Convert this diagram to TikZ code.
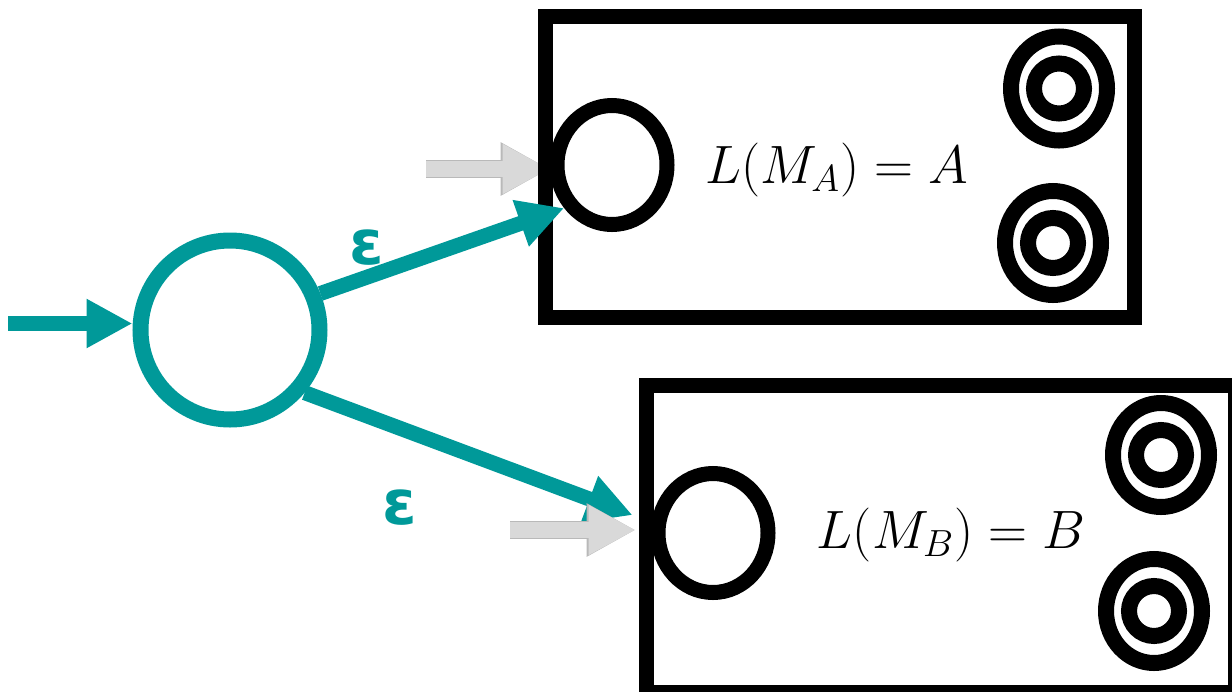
\RequirePackage{fix-cm}
\documentclass[tikz,border=0pt]{standalone}
\usepackage{amsmath}
\usepackage{fontspec}
\usepackage{tikz}
\usetikzlibrary{shapes.geometric,arrows.meta}
\newfontfamily\epsfont{DejaVu Sans}
\definecolor{tealc}{RGB}{0,153,153}
\definecolor{arrowgray}{RGB}{217,217,217}
\definecolor{edgegray}{RGB}{185,185,185}

\begin{document}
\begin{tikzpicture}[x=0.5pt,y=-0.5pt,
							every node/.style={inner sep=0pt},
							start/.style={circle,draw=tealc,line width=8pt,minimum size=89.5pt},
							state/.style={ellipse,draw,line width=7.5pt,minimum width=55pt,minimum height=59.5pt},
							accout/.style={ellipse,draw,line width=8pt,minimum width=48pt,minimum height=52pt},
							accin/.style={circle,draw,line width=8pt,minimum size=25pt},
							machine/.style={rectangle,draw,line width=7.5pt,minimum width=294.75pt},
							lang/.style={anchor=base,font=\fontsize{27}{30}\selectfont},
							eps/.style={text=tealc,font=\epsfont\bfseries\fontsize{31}{34}\selectfont},
							tealarrow/.style={draw=tealc,line width=7.5pt,-{Triangle[length=23pt,width=23pt]}},
							grayarrow/.style={draw=arrowgray,line width=8pt,-{Triangle[length=23.5pt,width=23.5pt]},
								preaction={draw=edgegray,line width=9pt,-{Triangle[length=24.5pt,width=25pt]}}}]
			\useasboundingbox (0,0) rectangle (1232,691);
			\clip (0,0) rectangle (1232,691);
			\coordinate (ga) at (426,169);
			\node[state] (sa) at (612,165) {};
			\draw[grayarrow] (ga) -- (ga -| sa.west);
			\node[machine,minimum height=150.25pt] (ma) at (840,166.75) {};
			\node[accout] (fa1) at (1059,88.5) {};
			\node[accin] (fa1in) at (fa1) {};
			\node[accout] (fa2) at (1053,243) {};
			\node[accin] (fa2in) at (fa2) {};
			\node[lang] (la) at (836.5,183) {$L(M_A) = A$};

			\node[start] (q0) at (230,330) {};
			\coordinate (in) at (8,323.5);
			\draw[tealarrow] (in) -- (in -| q0.west);
			\draw[tealarrow] (q0.22) -- (sa.222);
			\node[eps] (e1) at (367,248) {ε};

			\node[state] (sb) at (713,533) {};
			\draw[tealarrow,shorten >=10pt] (q0.320) -- (sb.170);
			\node[eps] (e2) at (400,508) {ε};
			\coordinate (gb) at (510,530);
			\draw[grayarrow,shorten >=7.5pt] (gb) -- (gb -| sb.west);
			\node[machine,minimum height=153.75pt] (mb) at (940.75,538.75) {};
			\node[accout] (fb1) at (1161,455) {};
			\node[accin] (fb1in) at (fb1) {};
			\node[accout] (fb2) at (1154,611) {};
			\node[accin] (fb2in) at (fb2) {};
			\node[lang] (lb) at (951,548) {$L(M_B) = B$};
\end{tikzpicture}
\end{document}
